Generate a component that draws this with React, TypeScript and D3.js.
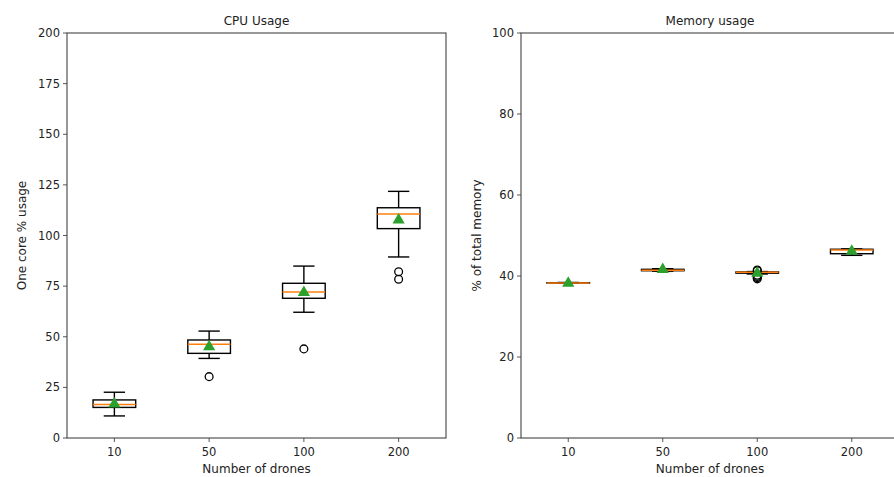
import React from "react";
import * as d3 from "d3";

const categories = ["10", "50", "100", "200"];

// CPU usage boxplot stats (one core % usage)
const cpuWhiskerLow = [10.9, 39.3, 62.1, 89.4];
const cpuQ1 = [15.1, 41.8, 69.0, 103.4];
const cpuMedian = [16.5, 46.3, 72.1, 110.6];
const cpuQ3 = [18.8, 48.4, 76.4, 113.7];
const cpuWhiskerHigh = [22.6, 52.8, 84.9, 121.8];
const cpuMean = [16.8, 45.1, 71.8, 107.7];
const cpuOutliers = [[], [30.3], [44.0], [82.1, 78.4]];
const cpuTicks = [0, 25, 50, 75, 100, 125, 150, 175, 200];

// Memory usage boxplot stats (% of total memory)
const memWhiskerLow = [38.2, 41.2, 40.5, 45.1];
const memQ1 = [38.25, 41.3, 40.7, 45.5];
const memMedian = [38.3, 41.4, 40.9, 46.4];
const memQ3 = [38.35, 41.65, 41.0, 46.6];
const memWhiskerHigh = [38.4, 41.8, 41.1, 46.7];
const memMean = [38.2, 41.6, 40.7, 46.1];
const memOutliers = [[], [], [39.3, 39.6, 39.9, 40.2, 41.3, 41.5], []];
const memTicks = [0, 20, 40, 60, 80, 100];

const FONT = "DejaVu Sans, sans-serif";
const TEXT = "#222";
const SPINE = "#444";

type PanelProps = {
  left: number;
  right: number;
  top: number;
  bottom: number;
  yMax: number;
  ticks: number[];
  title: string;
  yLabel: string;
  yLabelX: number;
  wl: number[];
  q1: number[];
  med: number[];
  q3: number[];
  wh: number[];
  mean: number[];
  out: number[][];
};

function Panel(p: PanelProps) {
  const x = d3.scaleLinear().domain([0.5, 4.5]).range([p.left, p.right]);
  const y = d3.scaleLinear().domain([0, p.yMax]).range([p.bottom, p.top]);
  const boxW = x(0.45) - x(0);
  const capW = boxW / 2;
  const tri = d3.symbol().type(d3.symbolTriangle).size(64)();
  const sw = 1.4;
  return (
    <g>
      <text x={(p.left + p.right) / 2} y={25} textAnchor="middle" fontSize={12} fontFamily={FONT} fill={TEXT}>
        {p.title}
      </text>
      <text
        transform={`translate(${p.yLabelX},${(p.top + p.bottom) / 2}) rotate(-90)`}
        textAnchor="middle"
        fontSize={12}
        fontFamily={FONT}
        fill={TEXT}
      >
        {p.yLabel}
      </text>
      <text x={(p.left + p.right) / 2} y={473} textAnchor="middle" fontSize={12} fontFamily={FONT} fill={TEXT}>
        Number of drones
      </text>
      {p.ticks.map((t) => (
        <g key={"y" + t}>
          <line x1={p.left - 4} x2={p.left} y1={y(t)} y2={y(t)} stroke={SPINE} strokeWidth={0.9} />
          <text x={p.left - 7} y={y(t)} dy="0.35em" textAnchor="end" fontSize={11.5} fontFamily={FONT} fill={TEXT}>
            {t}
          </text>
        </g>
      ))}
      {categories.map((c, i) => (
        <g key={"x" + c}>
          <line x1={x(i + 1)} x2={x(i + 1)} y1={p.bottom} y2={p.bottom + 4} stroke={SPINE} strokeWidth={0.9} />
          <text x={x(i + 1)} y={p.bottom + 18} textAnchor="middle" fontSize={11.5} fontFamily={FONT} fill={TEXT}>
            {c}
          </text>
        </g>
      ))}
      {categories.map((c, i) => {
        const cx = x(i + 1);
        return (
          <g key={"b" + c}>
            <line x1={cx} x2={cx} y1={y(p.q3[i])} y2={y(p.wh[i])} stroke="#000" strokeWidth={sw} />
            <line x1={cx} x2={cx} y1={y(p.q1[i])} y2={y(p.wl[i])} stroke="#000" strokeWidth={sw} />
            <line x1={cx - capW / 2} x2={cx + capW / 2} y1={y(p.wh[i])} y2={y(p.wh[i])} stroke="#000" strokeWidth={sw} />
            <line x1={cx - capW / 2} x2={cx + capW / 2} y1={y(p.wl[i])} y2={y(p.wl[i])} stroke="#000" strokeWidth={sw} />
            <rect
              x={cx - boxW / 2}
              y={y(p.q3[i])}
              width={boxW}
              height={Math.max(0.01, y(p.q1[i]) - y(p.q3[i]))}
              fill="none"
              stroke="#000"
              strokeWidth={sw}
            />
            <line
              x1={cx - boxW / 2}
              x2={cx + boxW / 2}
              y1={y(p.med[i])}
              y2={y(p.med[i])}
              stroke="#ff7f0e"
              strokeWidth={1.5}
            />
            {p.out[i].map((o, k) => (
              <circle key={k} cx={cx} cy={y(o)} r={3.9} fill="none" stroke="#000" strokeWidth={1.3} />
            ))}
            <path d={tri as string} transform={`translate(${cx},${y(p.mean[i])})`} fill="#2ca02c" />
          </g>
        );
      })}
      <rect
        x={p.left}
        y={p.top}
        width={p.right - p.left}
        height={p.bottom - p.top}
        fill="none"
        stroke={SPINE}
        strokeWidth={1.1}
      />
    </g>
  );
}

export default function App() {
  return (
    <svg
      width={894}
      height={477}
      style={{ position: "absolute", left: 0, top: 0, background: "#fff" }}
    >
      <rect width={894} height={477} fill="#fff" />
      <Panel
        left={67}
        right={446}
        top={33}
        bottom={438}
        yMax={200}
        ticks={cpuTicks}
        title="CPU Usage"
        yLabel="One core % usage"
        yLabelX={26}
        wl={cpuWhiskerLow}
        q1={cpuQ1}
        med={cpuMedian}
        q3={cpuQ3}
        wh={cpuWhiskerHigh}
        mean={cpuMean}
        out={cpuOutliers}
      />
      <Panel
        left={521}
        right={899}
        top={33}
        bottom={438}
        yMax={100}
        ticks={memTicks}
        title="Memory usage"
        yLabel="% of total memory"
        yLabelX={481}
        wl={memWhiskerLow}
        q1={memQ1}
        med={memMedian}
        q3={memQ3}
        wh={memWhiskerHigh}
        mean={memMean}
        out={memOutliers}
      />
    </svg>
  );
}
